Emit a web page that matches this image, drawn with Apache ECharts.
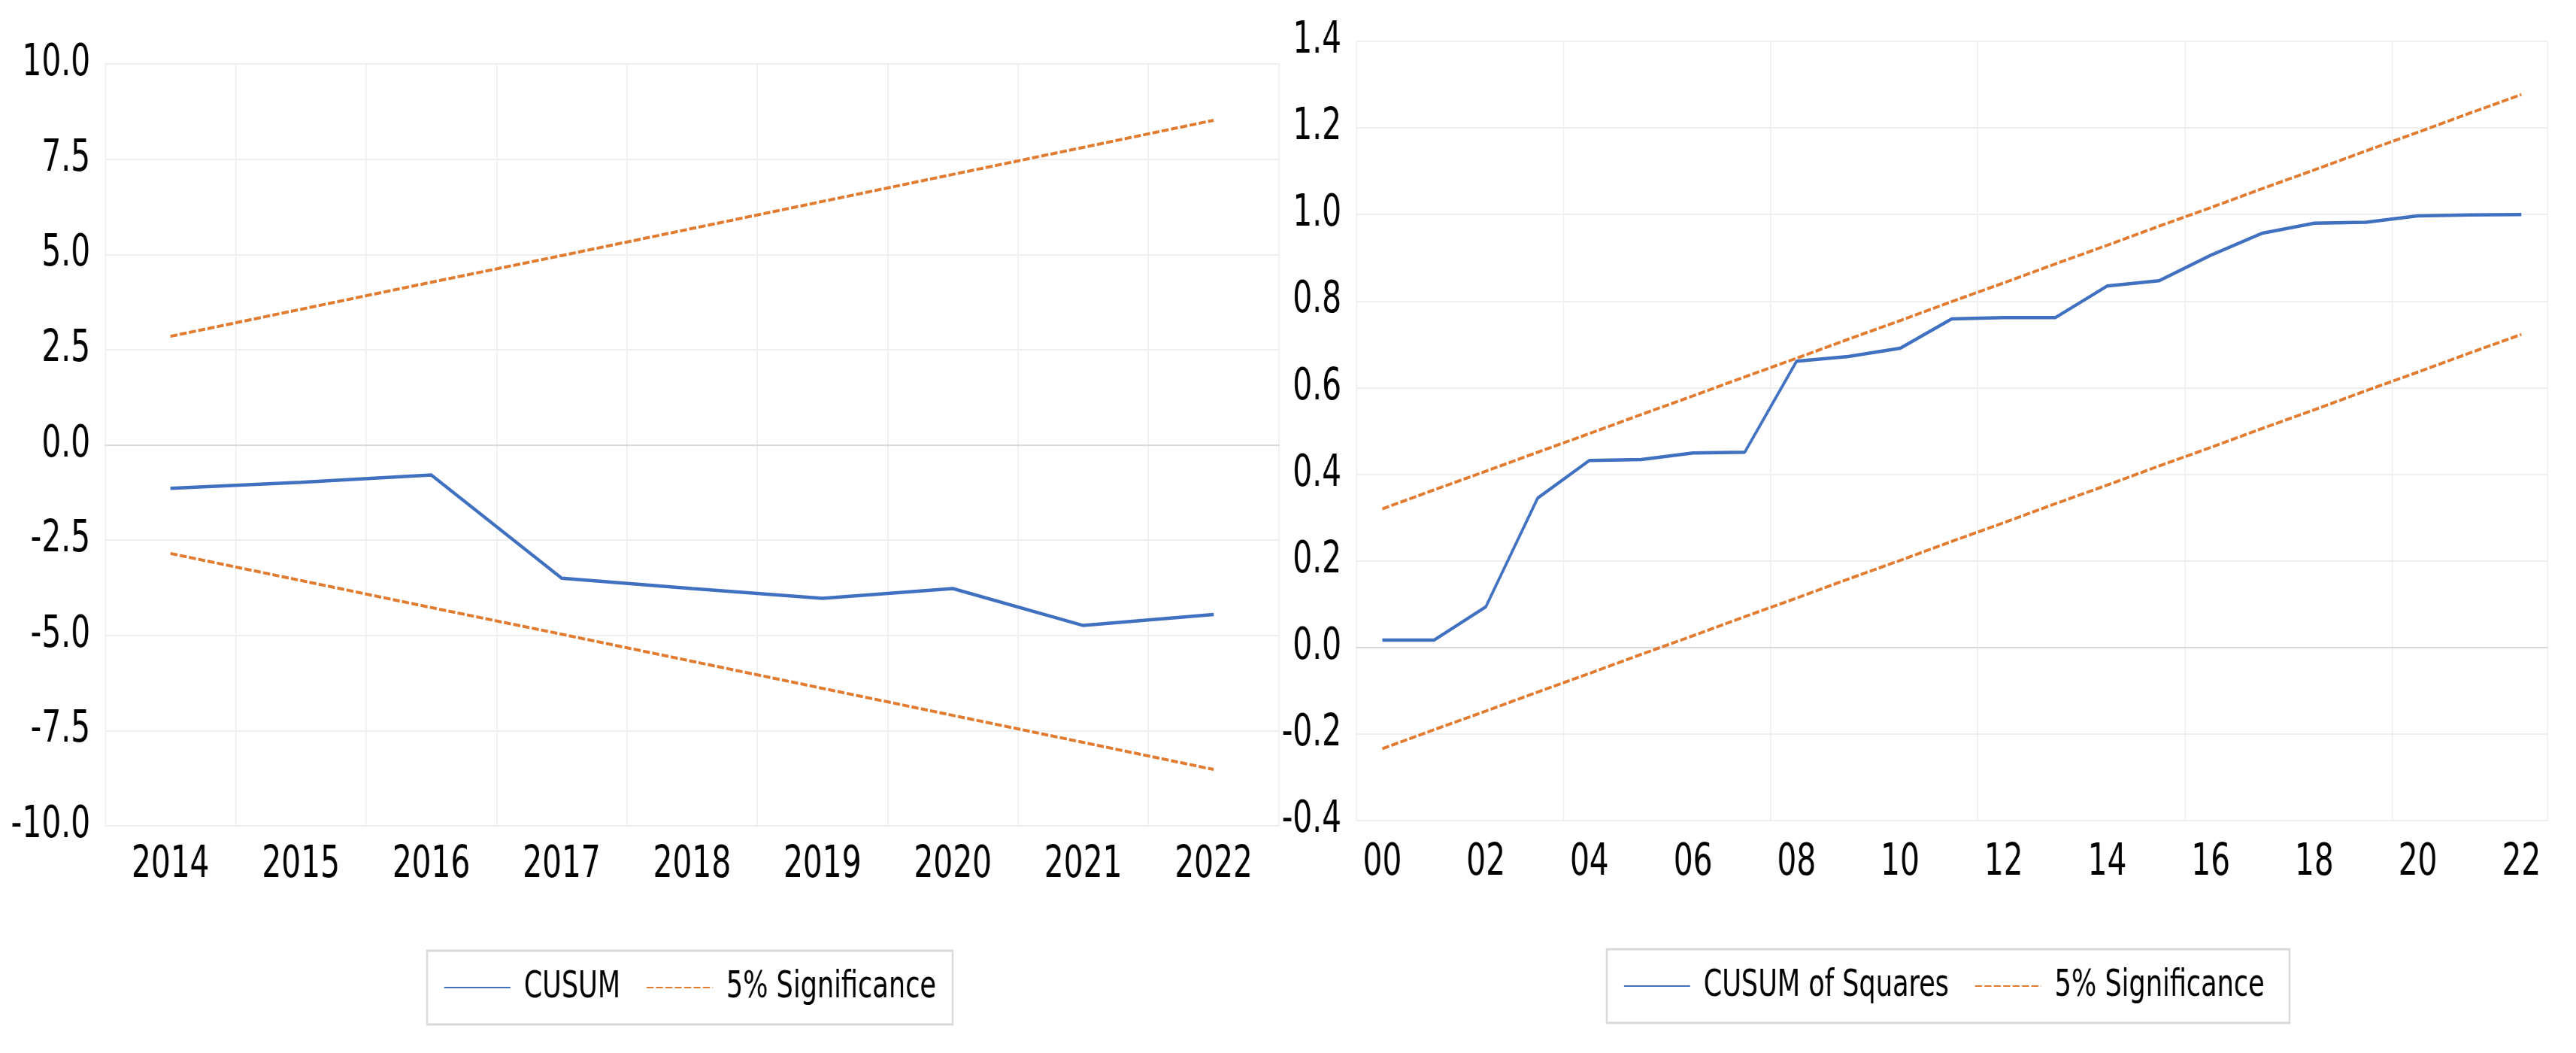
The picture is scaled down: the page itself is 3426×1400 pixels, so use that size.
<!DOCTYPE html>
<html>
<head>
<meta charset="utf-8">
<script src="https://cdn.jsdelivr.net/npm/echarts@6/dist/echarts.min.js"></script>
<style>
html,body{margin:0;padding:0;background:#fff;overflow:hidden;width:3426px;height:1400px;}
#c{height:1400px;transform-origin:0 0;}
</style>
</head>
<body>
<div id="c"></div>
<script>
// ---- Left chart: CUSUM ----
const cusumYears = ['2014','2015','2016','2017','2018','2019','2020','2021','2022'];
const cusum = [-1.14, -0.98, -0.79, -3.50, -3.77, -4.03, -3.77, -4.74, -4.45];
const cusumUpper = [2.85, 3.56, 4.27, 4.97, 5.68, 6.39, 7.10, 7.81, 8.52];
const cusumLower = [-2.85, -3.56, -4.27, -4.97, -5.68, -6.39, -7.10, -7.81, -8.52];

// ---- Right chart: CUSUM of Squares ----
const sqYears = ['00','01','02','03','04','05','06','07','08','09','10','11','12','13','14','15','16','17','18','19','20','21','22'];
const cusumSq = [0.017, 0.017, 0.094, 0.345, 0.432, 0.434, 0.449, 0.451, 0.661, 0.672, 0.691, 0.759, 0.762, 0.762, 0.835, 0.847, 0.906, 0.957, 0.980, 0.982, 0.997, 0.999, 1.0];
const sqUpper = [0.320, 0.364, 0.407, 0.451, 0.494, 0.538, 0.581, 0.625, 0.668, 0.712, 0.755, 0.799, 0.842, 0.886, 0.929, 0.973, 1.016, 1.060, 1.103, 1.147, 1.190, 1.234, 1.277];
const sqLower = [-0.234, -0.190, -0.147, -0.103, -0.060, -0.016, 0.027, 0.071, 0.114, 0.158, 0.201, 0.245, 0.288, 0.332, 0.375, 0.419, 0.462, 0.506, 0.549, 0.593, 0.636, 0.680, 0.723];

// horizontal text compression (reference uses a tall, narrow face)
const S = 0.78;
const X = v => v / S;
const el = document.getElementById('c');
el.style.width = X(3426) + 'px';
el.style.transform = 'scaleX(' + S + ')';

const FONT = '"DejaVu Sans Condensed", "Liberation Sans Narrow", "DejaVu Sans", sans-serif';
const BLUE = '#4070C0', ORANGE = '#E07B2F';
const GRID_C = '#efefef';

const chart = echarts.init(el, null, {renderer: 'canvas'});

function catAxis(idx, data, labelInterval, splitInterval, margin) {
  return {
    type: 'category', gridIndex: idx, data: data, boundaryGap: true,
    axisLine: {show: true, onZero: true, lineStyle: {color: '#d9d9d9', width: 2}},
    axisTick: {show: false},
    axisLabel: {interval: labelInterval, color: '#000', fontFamily: FONT, fontSize: 58, margin: margin},
    splitLine: {show: true, interval: splitInterval, lineStyle: {color: GRID_C, width: 2}}
  };
}
function valAxis(idx, min, max, interval) {
  return {
    type: 'value', gridIndex: idx, min: min, max: max, interval: interval,
    axisLine: {show: false}, axisTick: {show: false},
    axisLabel: {color: '#000', fontFamily: FONT, fontSize: 58, margin: X(20), padding: [0, 0, 14, 0],
      formatter: v => (Math.round(v * 10) / 10).toFixed(1)},
    splitLine: {show: true, lineStyle: {color: GRID_C, width: 2}}
  };
}
function lineSeries(name, x, data, color, dashed) {
  return {
    name: name, type: 'line', xAxisIndex: x, yAxisIndex: x, data: data,
    symbol: 'none', showSymbol: false, silent: true, animation: false,
    lineStyle: {color: color, width: dashed ? 4 : 4.5, type: dashed ? [12, 4] : 'solid'},
    itemStyle: {color: color}
  };
}
const legendCommon = {
  orient: 'horizontal', itemWidth: X(88), itemHeight: 20, itemGap: X(34),
  borderColor: '#d9d9d9', borderWidth: 3, padding: [24, X(22)],
  itemStyle: {opacity: 0},
  textStyle: {fontFamily: FONT, fontSize: 50, color: '#000', padding: [0, 0, 0, X(14)]}
};

chart.setOption({
  animation: false,
  backgroundColor: '#fff',
  grid: [
    {left: X(140), top: 85, right: X(1725), bottom: 302, containLabel: false},
    {left: X(1804), top: 55, right: X(38), bottom: 309, containLabel: false}
  ],
  xAxis: [catAxis(0, cusumYears, 0, 0, 24), catAxis(1, sqYears, 1, 3, 28)],
  yAxis: [valAxis(0, -10, 10, 2.5), valAxis(1, -0.4, 1.4, 0.2)],
  legend: [
    Object.assign({}, legendCommon, {left: X(568), top: 1264, data: ['CUSUM', '5% Significance']}),
    Object.assign({}, legendCommon, {left: X(2137), top: 1262, data: ['CUSUM of Squares', '5% Significance ']})
  ],
  series: [
    lineSeries('CUSUM', 0, cusum, BLUE, false),
    lineSeries('5% Significance', 0, cusumUpper, ORANGE, true),
    lineSeries('5% Significance', 0, cusumLower, ORANGE, true),
    lineSeries('CUSUM of Squares', 1, cusumSq, BLUE, false),
    lineSeries('5% Significance ', 1, sqUpper, ORANGE, true),
    lineSeries('5% Significance ', 1, sqLower, ORANGE, true)
  ]
});
</script>
</body>
</html>
